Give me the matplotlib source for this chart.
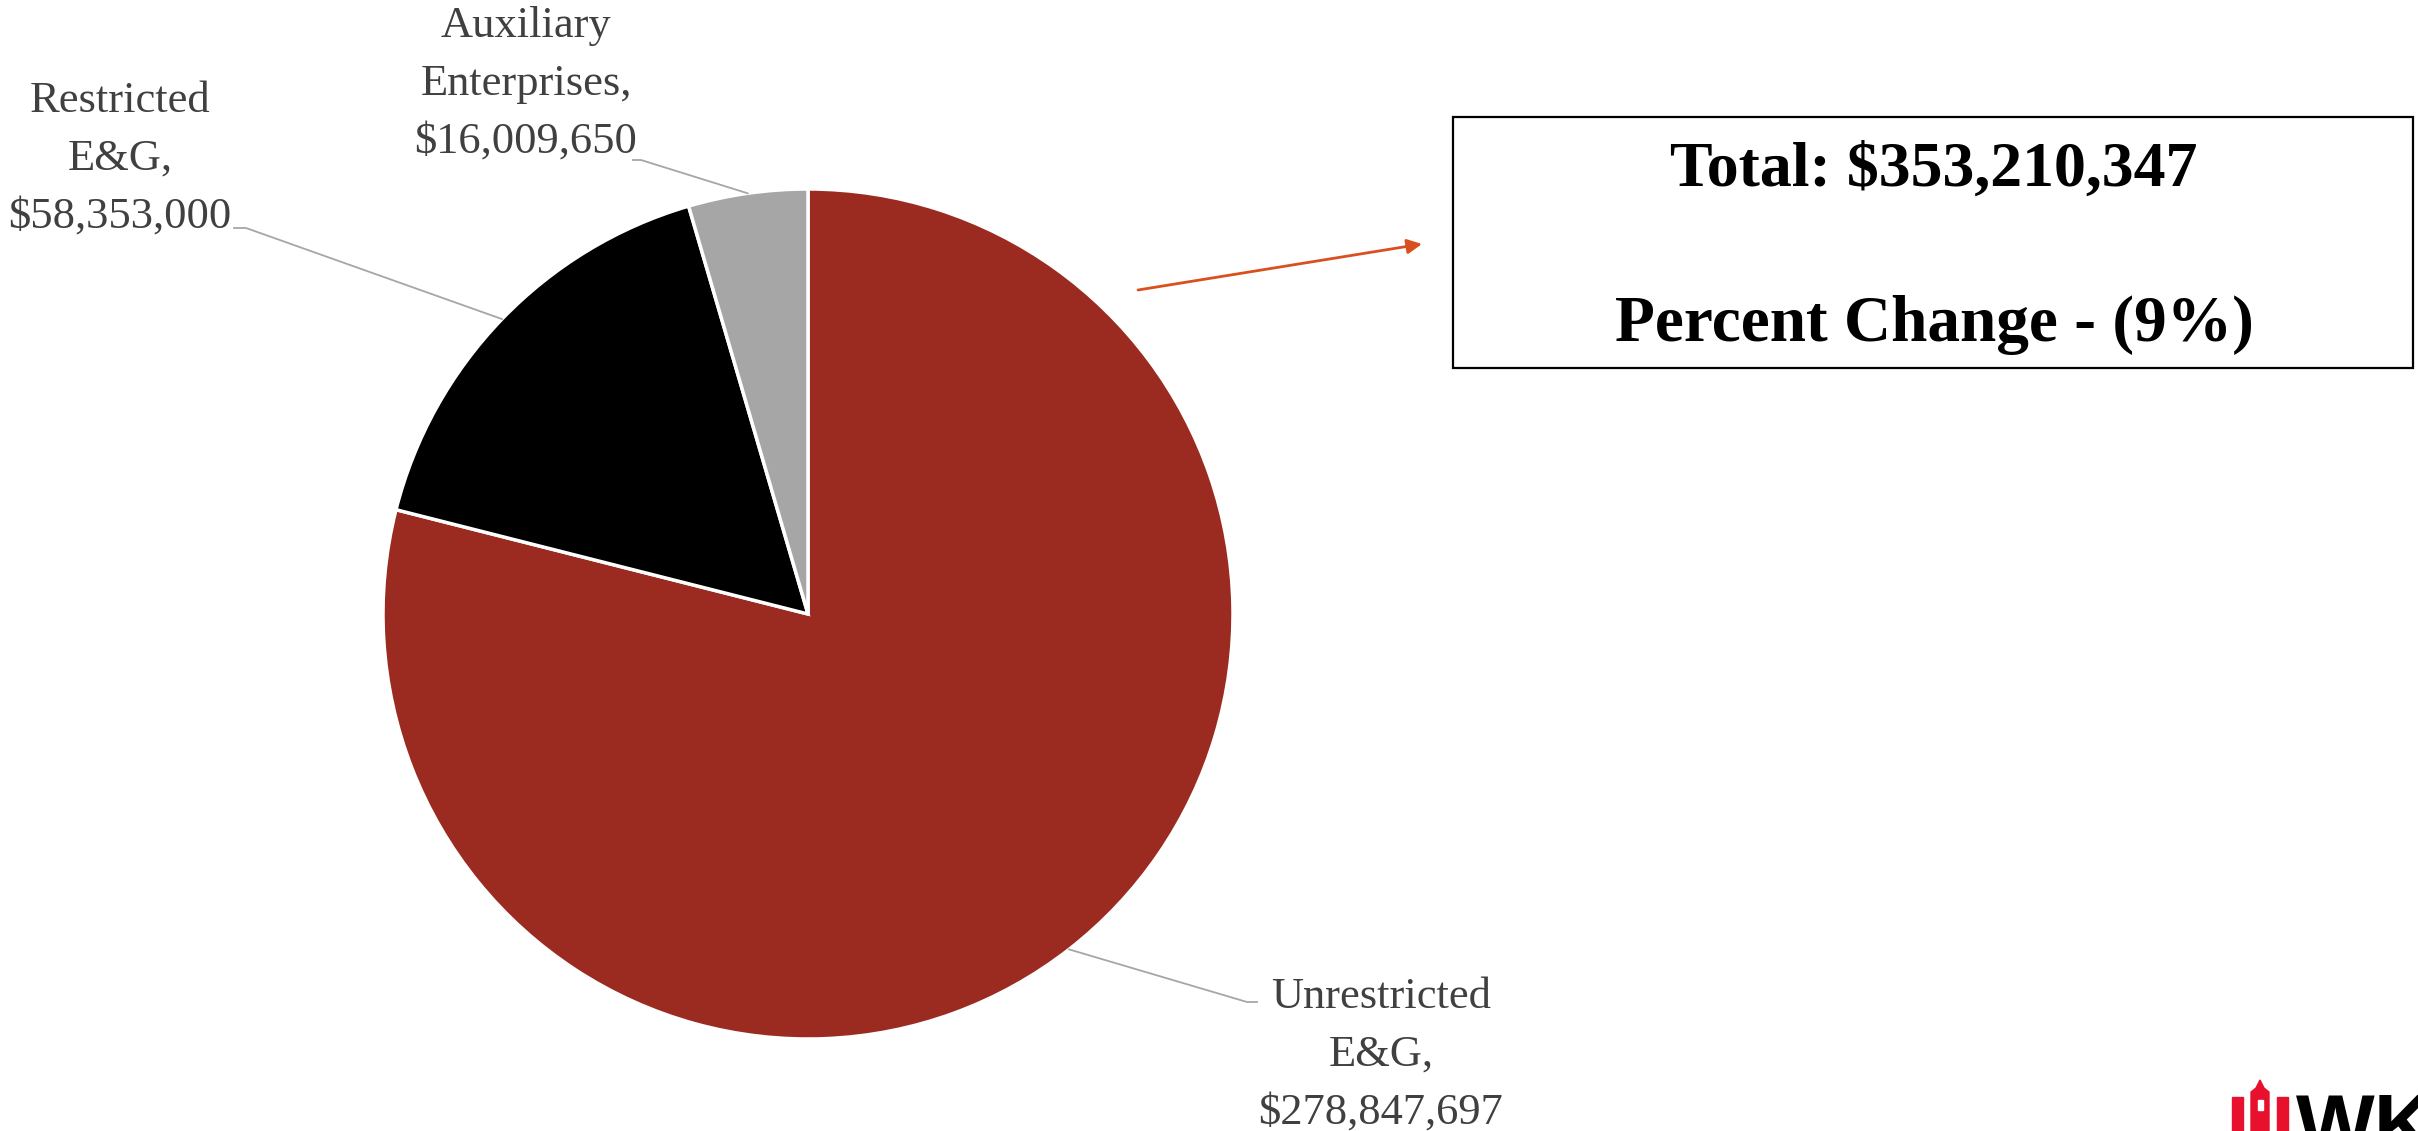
import numpy as np
import matplotlib
matplotlib.use("Agg")
import matplotlib.pyplot as plt
from matplotlib.patches import Rectangle, Polygon

# ---- data ----
categories = ["Unrestricted\nE&G", "Restricted\nE&G", "Auxiliary\nEnterprises"]
values = [278847697, 58353000, 16009650]
colors = ["#9B2B20", "#000000", "#A6A6A6"]
total_text = "Total: $353,210,347"
change_text = "Percent Change - (9%)"

W, H = 2418, 1131
fig = plt.figure(figsize=(W / 100, H / 100), dpi=100)
ax = fig.add_axes([0, 0, 1, 1])

def Y(y):
    return H - y

cx, cy, R = 808, Y(614), 425
wedges, _ = ax.pie(values, colors=colors, startangle=90, counterclock=False,
                   center=(cx, cy), radius=R,
                   wedgeprops=dict(edgecolor="white", linewidth=2.5))
ax.set_xlim(0, W)
ax.set_ylim(0, H)
ax.set_aspect("equal")
ax.axis("off")

label_font = dict(family="Liberation Serif", fontsize=32, color="#404040",
                  ha="center", linespacing=1.58)
# label layout: (text centre x, text centre y, leader tick end x, y, tick start x)
layout = [
    (1381, 1055, 1257, 1002, 1247),
    (120, 159, 234, 228, 246),
    (526, 84, 633, 160, 641),
]
for w, cat, val, (tx, ty, lx, ly, lx2) in zip(wedges, categories, values, layout):
    th = np.deg2rad((w.theta1 + w.theta2) / 2)
    px, py = cx + R * np.cos(th), cy + R * np.sin(th)
    ax.plot([px, lx2, lx], [py, Y(ly), Y(ly)], color="#A6A6A6", lw=1.3,
            solid_joinstyle="miter")
    ax.text(tx, Y(ty), f"{cat},\n${val:,.0f}", va="center", **label_font)

# total box
ax.add_patch(Rectangle((1453, Y(368)), 2413 - 1453, 368 - 117, fill=False,
                       edgecolor="black", lw=1.6))
ax.text(1934, Y(171), total_text, ha="center", va="center",
        family="Liberation Serif", fontweight="bold", fontsize=46, color="black")
ax.text(1934, Y(325), change_text, ha="center", va="center",
        family="Liberation Serif", fontweight="bold", fontsize=47, color="black")

# arrow
ax.annotate("", xy=(1422, Y(244)), xytext=(1138, Y(290)),
            arrowprops=dict(arrowstyle="-|>", color="#D9501E", lw=2,
                            mutation_scale=22, shrinkA=0, shrinkB=0))

# logo (partial, bottom right)
red = "#E8112D"
ax.add_patch(Rectangle((2232, Y(1131)), 11, 1131 - 1097, color=red))
ax.add_patch(Rectangle((2277, Y(1131)), 11, 1131 - 1097, color=red))
ax.add_patch(Polygon([(2251, Y(1131)), (2251, Y(1092)), (2256, Y(1088)),
                      (2260, Y(1080)), (2264, Y(1088)), (2269, Y(1092)),
                      (2269, Y(1131))], closed=True, color=red))
ax.add_patch(Rectangle((2257.5, Y(1110)), 5, 10, color="white"))
ax.text(2296, Y(1092), "WK", ha="left", va="top", family="Liberation Sans",
        fontweight="bold", fontsize=60, color="black", clip_on=False)

fig.savefig("out.png", dpi=100, facecolor="white")
